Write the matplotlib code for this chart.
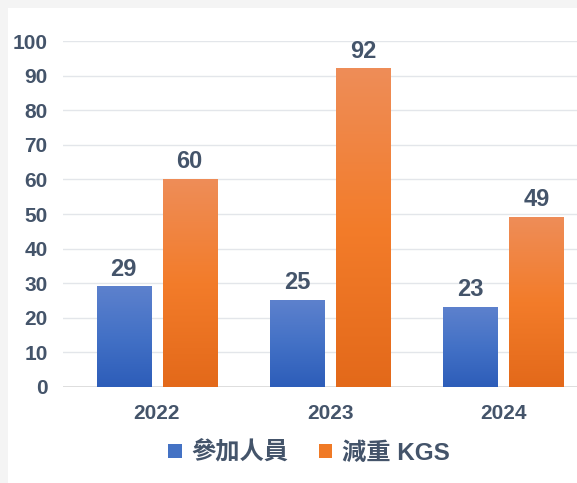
import numpy as np
import matplotlib
matplotlib.use("Agg")
import matplotlib.pyplot as plt
from matplotlib.colors import LinearSegmentedColormap
from matplotlib.patches import Rectangle

# Data
years = ["2022", "2023", "2024"]
participants = [29, 25, 23]
weight_loss = [60, 92, 49]
series_names = ["參加人員", "減重 KGS"]
y_ticks = [0, 10, 20, 30, 40, 50, 60, 70, 80, 90, 100]

TEXT = "#44546A"
LATIN = "Liberation Sans"
CJK = "Noto Sans CJK TC"

blue_cmap = LinearSegmentedColormap.from_list(
    "blue_grad", ["#2D5DB9", "#4371C6", "#5D81CD"])
orange_cmap = LinearSegmentedColormap.from_list(
    "orange_grad", ["#E3691A", "#F37C2A", "#EE8D58"])

fig = plt.figure(figsize=(5.77, 4.83), dpi=100)
fig.patch.set_facecolor("#F4F4F4")
fig.add_artist(Rectangle((8 / 577, 0), 1, 1 - 8 / 483, transform=fig.transFigure,
                         facecolor="white", edgecolor="none", zorder=0))

ax = fig.add_axes([63 / 577, 96 / 483, 534 / 577, 346 / 483])
ax.set_facecolor("none")

x = np.arange(len(years))
offset = 0.19
width = 0.312

grad = np.linspace(0, 1, 256).reshape(-1, 1)


def gradient_bars(xs, vals, cmap):
    bars = ax.bar(xs, vals, width=width, color="none", edgecolor="none", zorder=3)
    for b in bars:
        x0, y0 = b.get_x(), b.get_y()
        x1, y1 = x0 + b.get_width(), y0 + b.get_height()
        ax.imshow(grad, cmap=cmap, origin="lower", aspect="auto",
                  extent=(x0, x1, y0, y1), zorder=3, interpolation="bilinear")
    for xi, v in zip(xs, vals):
        ax.annotate(f"{v}", (xi, v), xytext=(0, 8), textcoords="offset points",
                    ha="center", va="baseline", fontsize=17, fontweight="bold",
                    color=TEXT, family=LATIN, zorder=5)
    return bars


gradient_bars(x - offset, participants, blue_cmap)
gradient_bars(x + offset, weight_loss, orange_cmap)
ax.set_xlim(-0.54, 2.54)
ax.set_ylim(0, 100)

ax.set_yticks(y_ticks)
ax.set_yticklabels([str(t) for t in y_ticks])
ax.set_xticks(x)
ax.set_xticklabels(years)
ax.tick_params(axis="both", length=0, colors=TEXT)
ax.tick_params(axis="y", pad=11)
ax.tick_params(axis="x", pad=12)
for lab in ax.get_yticklabels() + ax.get_xticklabels():
    lab.set_fontfamily(LATIN)
    lab.set_fontweight("bold")
    lab.set_fontsize(15)

ax.grid(axis="y", color="#E3E6EA", linewidth=1.0, zorder=0)
ax.set_axisbelow(True)
for s in ax.spines.values():
    s.set_visible(False)
ax.axhline(0, color="#D9D9D9", linewidth=1.2, zorder=2)

handles = [Rectangle((0, 0), 1, 1, facecolor="#4472C4", edgecolor="none"),
           Rectangle((0, 0), 1, 1, facecolor="#F07A26", edgecolor="none")]
leg = fig.legend(handles, series_names, loc="center", bbox_to_anchor=(309 / 577, 30 / 483),
                 ncol=2, frameon=False, handlelength=0.55, handleheight=0.55,
                 handletextpad=0.4, columnspacing=1.25,
                 prop={"family": [LATIN, CJK], "size": 17.5, "weight": 560})
for t in leg.get_texts():
    t.set_color(TEXT)

fig.savefig("out.png", dpi=100, facecolor=fig.get_facecolor())
